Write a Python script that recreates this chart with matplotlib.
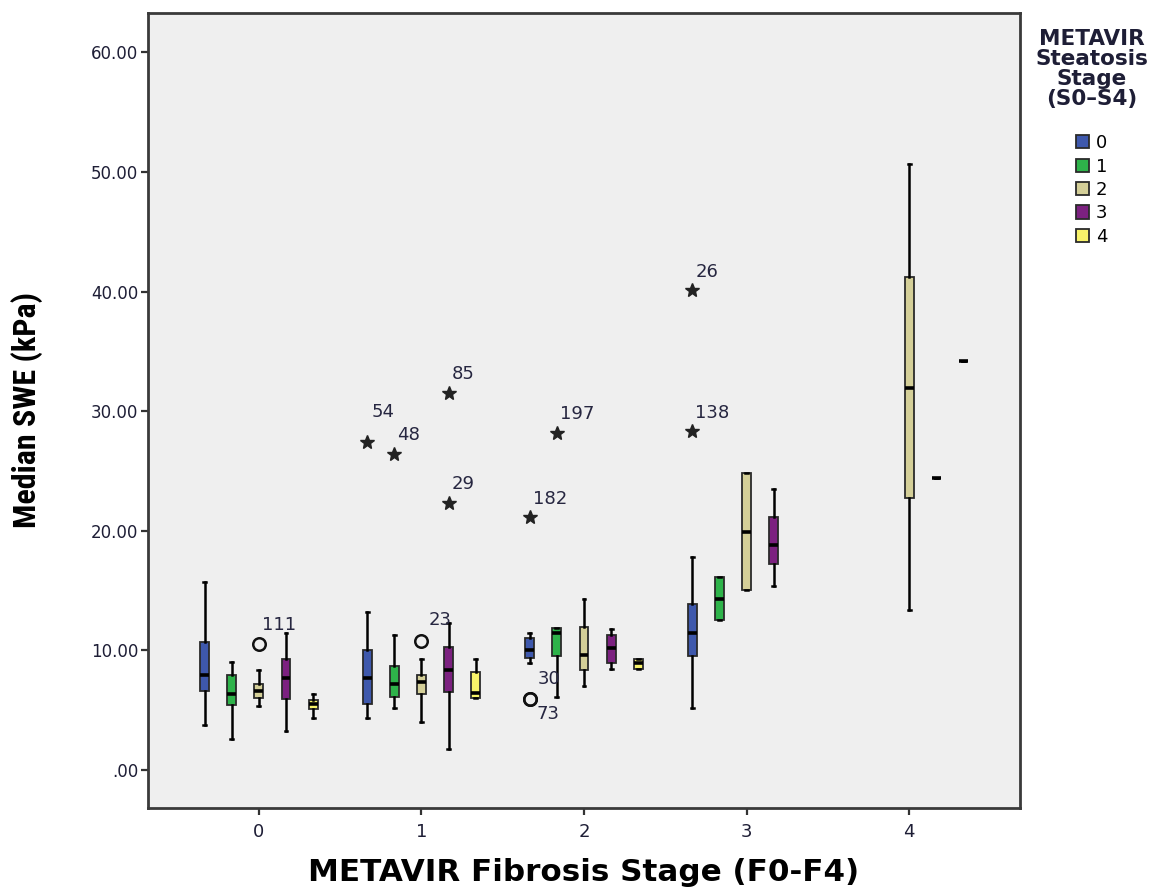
import matplotlib
matplotlib.use('Agg')
import matplotlib.pyplot as plt
from matplotlib.patches import Patch
from matplotlib.ticker import FuncFormatter

# fibrosis stages on x, steatosis stages as the grouped series
fibrosis = [0, 1, 2, 3, 4]
steatosis = ['0', '1', '2', '3', '4']
colors = ['#3e58ac', '#2eb34a', '#d4cf98', '#7c2180', '#f8f36a']

# (whisker low, q1, median, q3, whisker high) for each fibrosis stage, None = no data
s0 = [[3.7, 6.6, 7.9, 10.7, 15.7], [4.3, 5.5, 7.7, 10.0, 13.2], [8.9, 9.35, 10.0, 11.0, 11.4],
      [5.2, 9.5, 11.4, 13.9, 17.8], None]
s1 = [[2.6, 5.4, 6.3, 7.95, 9.0], [5.2, 6.1, 7.2, 8.7, 11.3], [6.1, 9.5, 11.4, 11.85, 11.85],
      [12.55, 12.55, 14.3, 16.1, 16.1], None]
s2 = [[5.3, 6.0, 6.6, 7.2, 8.3], [4.0, 6.3, 7.3, 7.95, 9.3], [7.0, 8.3, 9.6, 11.9, 14.3],
      [15.0, 15.0, 19.9, 24.8, 24.8], [13.4, 22.7, 31.9, 41.2, 50.7]]
s3 = [[3.2, 5.9, 7.7, 9.3, 11.4], [1.7, 6.5, 8.3, 10.3, 12.3], [8.4, 8.9, 10.2, 11.3, 11.8],
      [15.4, 17.2, 18.8, 21.1, 23.5], [24.4, 24.4, 24.4, 24.4, 24.4]]
s4 = [[4.3, 5.1, 5.5, 5.8, 6.3], [6.0, 6.0, 6.4, 8.2, 9.3], [8.45, 8.45, 8.9, 9.3, 9.3],
      None, [34.2, 34.2, 34.2, 34.2, 34.2]]
series = [s0, s1, s2, s3, s4]

# outliers: fibrosis stage, steatosis stage, value, case label, kind
out_f = [0, 1, 1, 1, 1, 1, 2, 2, 2, 2, 3, 3]
out_s = [2, 0, 1, 3, 3, 2, 0, 1, 0, 0, 0, 0]
out_v = [10.5, 27.4, 26.4, 31.5, 22.3, 10.8, 21.1, 28.2, 5.9, 5.9, 40.1, 28.3]
out_lab = ['111', '54', '48', '85', '29', '23', '182', '197', '30', '73', '26', '138']
out_kind = ['o', '*', '*', '*', '*', 'o', '*', '*', 'o', 'o', '*', '*']

offsets = [-1/3, -1/6, 0, 1/6, 1/3]
label_off = {'54': (3, 15), '73': (5, -17), '23': (5, 8), '30': (6, 8)}

fig = plt.figure(figsize=(11.6, 8.91), dpi=100)
ax = fig.add_axes([0.1276, 0.0932, 0.7517, 0.8922])
ax.set_facecolor('#efefef')

for k, s in enumerate(series):
    stats, pos = [], []
    for i, v in enumerate(s):
        if v is None:
            continue
        stats.append(dict(whislo=v[0], q1=v[1], med=v[2], q3=v[3], whishi=v[4], fliers=[]))
        pos.append(fibrosis[i] + offsets[k])
    ax.bxp(stats, positions=pos, widths=0.055, capwidths=0.018, patch_artist=True,
           boxprops=dict(facecolor=colors[k], edgecolor='#2a2a2a', linewidth=1.3),
           medianprops=dict(color='black', linewidth=2.6),
           whiskerprops=dict(color='black', linewidth=1.8),
           capprops=dict(color='black', linewidth=1.8), manage_ticks=False, zorder=3)

for f, s, v, lab, kind in zip(out_f, out_s, out_v, out_lab, out_kind):
    x = f + offsets[s]
    if kind == 'o':
        ax.plot(x, v, 'o', ms=9, mfc='none', mec='#111111', mew=1.8, zorder=4)
    else:
        ax.plot(x, v, '*', ms=10, color='#222222', zorder=4)
    dx, dy = label_off.get(lab, (2, 7))
    ax.annotate(lab, (x, v), xytext=(dx, dy), textcoords='offset points',
                ha='left', va='bottom', fontsize=13, color='#262640')

ax.set_xlim(-0.682, 4.682)
ax.set_ylim(-3.2, 63.3)
ax.set_xticks(fibrosis)
ax.set_yticks([0, 10, 20, 30, 40, 50, 60])
ax.yaxis.set_major_formatter(FuncFormatter(lambda v, p: '.00' if v == 0 else '%.2f' % v))
ax.tick_params(axis='both', direction='out', length=5, width=1.6, colors='#333333',
               labelcolor='#1e1e36', pad=2)
ax.tick_params(axis='y', labelsize=12)
ax.tick_params(axis='x', labelsize=13, pad=6)
for sp in ax.spines.values():
    sp.set_color('#3a3a3a')
    sp.set_linewidth(2)

ax.set_xlabel('METAVIR Fibrosis Stage (F0-F4)', fontsize=22.3, weight='bold',
              family='DejaVu Sans', va='center')
ax.xaxis.set_label_coords(0.5, -0.081)
ax.set_ylabel('Median SWE (kPa)', fontsize=23, weight='bold',
              family=['Roboto Condensed', 'DejaVu Sans'])
ax.yaxis.set_label_coords(-0.121, 0.5)

handles = [Patch(facecolor=c, edgecolor='#2a2a2a', linewidth=1.3) for c in colors]
leg = fig.legend(handles, steatosis, loc='upper center', bbox_to_anchor=(0.941, 0.986),
                 frameon=False, title='METAVIR\nSteatosis\nStage\n(S0–S4)\n',
                 fontsize=13, handlelength=0.75, handleheight=0.75, handletextpad=0.35,
                 labelspacing=0.3)
tt = leg.get_title()
tt.set_fontsize(15.5)
tt.set_fontweight('bold')
tt.set_color('#1e1e36')
tt.set_multialignment('center')
tt.set_linespacing(1.0)

fig.savefig('out.png', dpi=100)
